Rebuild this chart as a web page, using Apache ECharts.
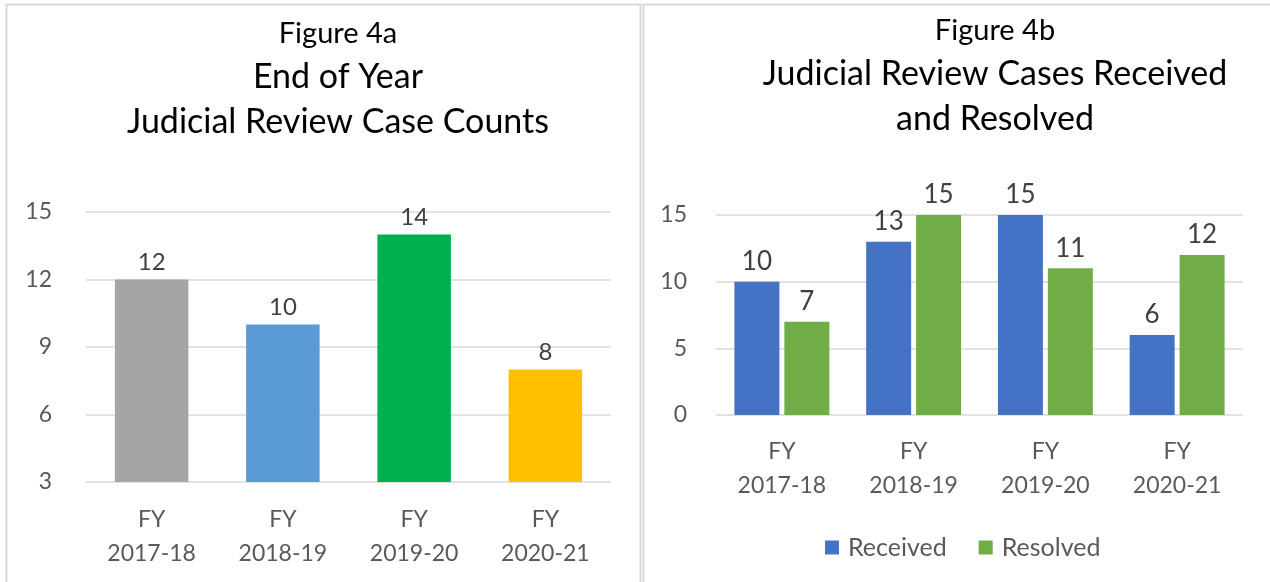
<!DOCTYPE html>
<html>
<head>
<meta charset="utf-8">
<script src="https://cdn.jsdelivr.net/npm/echarts@6/dist/echarts.min.js"></script>
<style>
  html, body { margin: 0; padding: 0; background: #ffffff; }
  #main { width: 1270px; height: 582px; }
</style>
</head>
<body>
<div id="main"></div>
<script>
// data for figure 4a
var yearsA = ['FY\n2017-18', 'FY\n2018-19', 'FY\n2019-20', 'FY\n2020-21'];
var countsA = [12, 10, 14, 8];
var colorsA = ['#A5A5A5', '#5B9BD5', '#00B050', '#FFC000'];
var ticksA = [3, 6, 9, 12, 15];

// data for figure 4b
var yearsB = ['FY\n2017-18', 'FY\n2018-19', 'FY\n2019-20', 'FY\n2020-21'];
var received = [10, 13, 15, 6];
var resolved = [7, 15, 11, 12];
var ticksB = [0, 5, 10, 15];

var FONT = 'Lato';
var chart = echarts.init(document.getElementById('main'), null, { renderer: 'canvas' });

function catAxis(idx, data, margin) {
  return {
    type: 'category', gridIndex: idx, data: data,
    axisLine: { show: false }, axisTick: { show: false },
    axisLabel: { color: '#595959', fontFamily: FONT, fontSize: 23, lineHeight: 34, margin: margin }
  };
}
function valAxis(idx, ticks, margin) {
  return {
    type: 'value', gridIndex: idx,
    min: ticks[0], max: ticks[ticks.length - 1], interval: ticks[1] - ticks[0],
    axisLine: { show: false }, axisTick: { show: false },
    axisLabel: { color: '#595959', fontFamily: FONT, fontSize: 23, margin: margin },
    splitLine: { lineStyle: { color: '#D9D9D9', width: 1.5 } }
  };
}
function barLabel(size, dist) {
  return { show: true, position: 'top', color: '#404040', fontFamily: FONT, fontSize: size, distance: dist };
}
function titleText(txt, x, y, size, lh) {
  return {
    text: txt, left: x, top: y, textAlign: 'center',
    textStyle: { color: '#000000', fontFamily: FONT, fontWeight: 'normal', fontSize: size, lineHeight: lh }
  };
}

var option = {
  backgroundColor: '#ffffff',
  animation: false,
  graphic: [
    { type: 'rect', shape: { x: 6.5, y: 4.5, width: 634, height: 600 }, style: { fill: 'none', stroke: '#D9D9D9', lineWidth: 2 } },
    { type: 'rect', shape: { x: 643.5, y: 4.5, width: 640, height: 600 }, style: { fill: 'none', stroke: '#D9D9D9', lineWidth: 2 } }
  ],
  title: [
    titleText('Figure 4a', 333, 13, 29, 32),
    titleText('End of Year\nJudicial Review Case Counts', 333, 50, 34, 45),
    titleText('Figure 4b', 990, 10, 29, 32),
    titleText('Judicial Review Cases Received\nand Resolved', 990, 47, 34, 45)
  ],
  legend: {
    data: ['Received', 'Resolved'], left: 820, top: 530, itemWidth: 14, itemHeight: 14, itemGap: 32,
    icon: 'rect',
    textStyle: { color: '#595959', fontFamily: FONT, fontSize: 25, padding: [0, 0, 0, 4] }
  },
  grid: [
    { left: 86, top: 212, width: 525, height: 270 },
    { left: 716, top: 215, width: 527, height: 200 }
  ],
  xAxis: [catAxis(0, yearsA, 21), catAxis(1, yearsB, 20)],
  yAxis: [valAxis(0, ticksA, 34), valAxis(1, ticksB, 29)],
  series: [
    {
      type: 'bar', xAxisIndex: 0, yAxisIndex: 0, barWidth: '56%',
      data: countsA.map(function (v, i) { return { value: v, itemStyle: { color: colorsA[i] } }; }),
      label: barLabel(24, 5)
    },
    {
      name: 'Received', type: 'bar', xAxisIndex: 1, yAxisIndex: 1, barWidth: 45, barGap: '11%',
      itemStyle: { color: '#4472C4' }, data: received, label: barLabel(26, 7)
    },
    {
      name: 'Resolved', type: 'bar', xAxisIndex: 1, yAxisIndex: 1, barWidth: 45, barGap: '11%',
      itemStyle: { color: '#70AD47' }, data: resolved, label: barLabel(26, 7)
    }
  ]
};
chart.setOption(option);
</script>
</body>
</html>
